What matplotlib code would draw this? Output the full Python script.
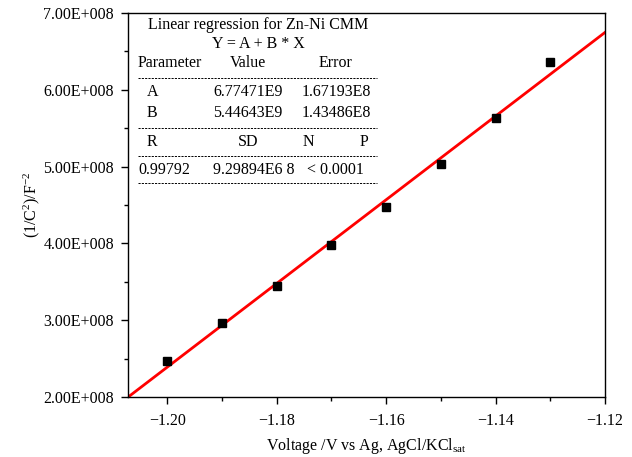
import numpy as np
import matplotlib
matplotlib.use("Agg")
import matplotlib.pyplot as plt
from matplotlib.ticker import FuncFormatter, MultipleLocator

plt.rcParams['font.family'] = ['Liberation Serif', 'DejaVu Serif']
plt.rcParams['mathtext.fontset'] = 'custom'
plt.rcParams['mathtext.rm'] = 'Liberation Serif'
plt.rcParams['mathtext.it'] = 'Liberation Serif:italic'
plt.rcParams['font.size'] = 11.5

# measured points
voltage = [-1.20, -1.19, -1.18, -1.17, -1.16, -1.15, -1.14, -1.13]
inv_c2 = [2.473e8, 2.96e8, 3.449e8, 3.979e8, 4.478e8, 5.030e8, 5.637e8, 6.362e8]

# linear fit parameters (Y = A + B * X)
fit_A = 6.77471e9
fit_B = 5.44643e9

x_lim = (-1.2072, -1.12)
y_lim = (2e8, 7e8)
x_ticks = [-1.20, -1.18, -1.16, -1.14, -1.12]
y_ticks = [2e8, 3e8, 4e8, 5e8, 6e8, 7e8]

# regression table text: (text, x, y, ha) in axes fraction
table_rows = [
    ("Linear regression for Zn-Ni CMM", 0.2725, 0.969, 'center'),
    ("Y = A + B * X", 0.2725, 0.919, 'center'),
    ("Parameter", 0.021, 0.870, 'left'),
    ("Value", 0.2516, 0.870, 'center'),
    ("Error", 0.436, 0.870, 'center'),
    ("A", 0.0398, 0.794, 'left'),
    ("6.77471E9", 0.178, 0.794, 'left'),
    ("1.67193E8", 0.365, 0.794, 'left'),
    ("B", 0.0398, 0.740, 'left'),
    ("5.44643E9", 0.178, 0.740, 'left'),
    ("1.43486E8", 0.365, 0.740, 'left'),
    ("R", 0.0398, 0.664, 'left'),
    ("SD", 0.2516, 0.664, 'center'),
    ("N", 0.379, 0.664, 'center'),
    ("P", 0.495, 0.664, 'center'),
    ("0.99792", 0.021, 0.591, 'left'),
    ("9.29894E6 8", 0.178, 0.591, 'left'),
    ("< 0.0001", 0.375, 0.591, 'left'),
]
dash_y = [0.831, 0.700, 0.628, 0.557]


def sci_fmt(v, pos):
    if v == 0:
        return "0.00E+000"
    e = int(np.floor(np.log10(abs(v))))
    m = v / 10 ** e
    return "%.2fE%+04d" % (m, e)


def minus_fmt(v, pos):
    return ("%.2f" % v).replace("-", "\u2212")


fig = plt.figure(figsize=(6.32, 4.57), dpi=100)
ax = fig.add_axes([0.2025, 0.1313, 0.7548, 0.8403])

xs = np.array(x_lim)
ax.plot(xs, fit_A + fit_B * xs, color='#ff0000', lw=2, zorder=2)
ax.plot(voltage, inv_c2, 's', color='black', markersize=5.8, zorder=3)

ax.set_xlim(*x_lim)
ax.set_ylim(*y_lim)
ax.set_xticks(x_ticks)
ax.set_yticks(y_ticks)
ax.xaxis.set_minor_locator(MultipleLocator(0.01))
ax.yaxis.set_minor_locator(MultipleLocator(0.5e8))
ax.xaxis.set_major_formatter(FuncFormatter(minus_fmt))
ax.yaxis.set_major_formatter(FuncFormatter(sci_fmt))
ax.tick_params(which='both', direction='out', top=False, right=False, labelsize=11.5)
ax.tick_params(which='major', length=5, width=1)
ax.tick_params(which='minor', length=3, width=1)
ax.tick_params(axis='x', which='major', pad=6.5)
ax.tick_params(axis='y', which='major', pad=5)
for s in ax.spines.values():
    s.set_linewidth(1)

ax.set_xlabel(r'Voltage /V vs Ag, AgCl/KCl$_{\mathrm{sat}}$', fontsize=11.5, labelpad=5)
ax.set_ylabel(r'(1/C$^{2}$)/F$^{-2}$', fontsize=11.5, labelpad=1)

for txt, x, y, ha in table_rows:
    ax.text(x, y, txt, transform=ax.transAxes, ha=ha, va='center', fontsize=11.5)
for y in dash_y:
    ax.plot([0.021, 0.522], [y, y], transform=ax.transAxes, color='black',
            lw=0.7, linestyle=(0, (2.2, 1.2)))

fig.savefig('out.png', dpi=100)
